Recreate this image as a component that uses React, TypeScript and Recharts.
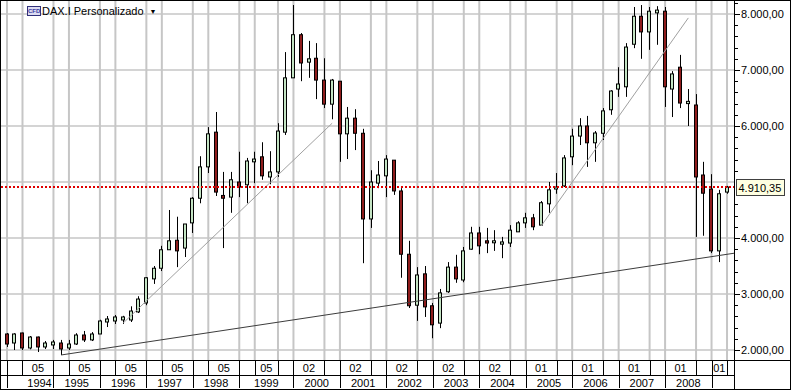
import React from 'react';
import { ComposedChart, Bar, XAxis, YAxis, CartesianGrid, ReferenceLine } from 'recharts';

// bimonthly candles, index -1 is the one cut off at the left edge
const opens = [
  2300, 2286, 2125, 2304, 2036, 2232, 2054, 2090, 2125, 2036, 2107, 2268, 2180, 2286, 2500, 2518,
  2536, 2536, 2680, 2840, 3270, 3460, 3790, 3960, 3820, 4270, 4710, 5270, 5890, 4760, 4730, 5000,
  4950, 5360, 5450, 5090, 5180, 5890, 6860, 7630, 7140, 7210, 6820, 6390, 6800, 5860, 6140, 5870,
  4340, 4980, 5110, 5390, 4840, 3710, 2800, 3360, 2790, 2480, 3040, 3480, 3250, 3800, 4090, 3950,
  3920, 3890, 3910, 4110, 4270, 4360, 4230, 4610, 4880, 4930, 5450, 5820, 6000, 5700, 5870, 6290,
  6660, 6700, 7460, 7960, 7680, 8020, 8050, 6660, 7050, 6400, 6375, 5125, 4875, 3770, 4820,
];
const highs = [
  2330, 2304, 2300, 2310, 2250, 2240, 2160, 2180, 2180, 2180, 2300, 2340, 2320, 2540, 2607, 2625,
  2610, 2780, 2960, 3300, 3500, 3860, 4500, 4380, 4250, 4730, 5460, 5980, 6250, 5180, 5180, 5540,
  5430, 5540, 5710, 5550, 6050, 7320, 8160, 7660, 7520, 7480, 7210, 6840, 6800, 6340, 6300, 5950,
  5210, 5375, 5480, 5390, 4890, 3950, 3480, 3500, 2840, 3090, 3570, 3700, 3840, 4200, 4200, 4180,
  4140, 4020, 4230, 4300, 4450, 4430, 4660, 5000, 5160, 5480, 5950, 6140, 6180, 5910, 6320, 6640,
  7050, 7480, 8125, 8160, 8125, 8140, 8125, 6980, 7270, 6660, 6570, 5360, 5140, 4860, 4930,
];
const lows = [
  2150, 2054, 2000, 2000, 2012, 1964, 2018, 2018, 1910, 2000, 2090, 2143, 2160, 2286, 2410, 2464,
  2464, 2500, 2660, 2800, 3180, 3410, 3790, 3480, 3660, 4090, 4620, 5160, 4750, 3820, 4450, 4730,
  4620, 4980, 5040, 4960, 5090, 5840, 6860, 6800, 6860, 6480, 6320, 6120, 5360, 5410, 5570, 3550,
  4180, 4890, 4730, 4770, 3290, 2750, 2520, 2590, 2210, 2390, 3020, 3200, 3210, 3790, 3710, 3730,
  3770, 3640, 3840, 4110, 4180, 4140, 4230, 4450, 4790, 4910, 5300, 5660, 5270, 5360, 5750, 6200,
  6520, 6520, 7390, 7200, 7360, 7450, 6340, 6160, 6320, 6000, 4020, 4040, 3730, 3570, 4790,
];
const closes = [
  2180, 2107, 2286, 2036, 2232, 2054, 2125, 2143, 2018, 2107, 2268, 2180, 2286, 2518, 2554, 2590,
  2590, 2696, 2910, 3290, 3460, 3790, 3950, 3770, 4250, 4710, 5270, 5860, 4820, 4710, 5040, 4910,
  5375, 5410, 5110, 5180, 5910, 6860, 7630, 7125, 7200, 6820, 6390, 6820, 5860, 6140, 5870, 4340,
  5000, 5125, 5410, 4840, 3710, 2790, 3340, 2770, 2450, 3020, 3480, 3270, 3770, 4090, 3860, 3910,
  3950, 3930, 4140, 4270, 4360, 4200, 4630, 4860, 4910, 5430, 5820, 6000, 5700, 5875, 6270, 6625,
  6750, 7410, 7960, 7680, 8050, 8070, 6700, 6930, 6410, 6440, 5090, 4800, 3770, 4790, 4910.35,
];

const lastPrice = 4910.35;

// grid / upper band separators (candle index)
const monthLines = [0, 2, 6, 8, 12, 14, 18, 20, 24, 26, 30, 32, 35, 37, 41, 43, 47, 49, 53, 55, 59, 61, 65, 67, 71, 73, 77, 79, 83, 85, 89, 91, 93];
const monthLabelAt = [4, 10, 16, 22, 28, 33.5, 39, 45, 51, 57, 63, 69, 75, 81, 87, 92];
const monthLabels = ['05', '05', '05', '05', '05', '05', '02', '02', '02', '02', '02', '01', '01', '01', '01', '01'];

const yearLines = [0, 6, 12, 18, 24, 30, 37, 43, 49, 55, 61, 67, 73, 79, 85, 91];
const yearLabelAt = [4.2, 9, 15, 21, 27, 33.5, 40, 46, 52, 58, 64, 70, 76, 82, 88];
const yearLabels = ['1994', '1995', '1996', '1997', '1998', '1999', '2000', '2001', '2002', '2003', '2004', '2005', '2006', '2007', '2008'];

const priceTicks = [
  2000, 2200, 2400, 2600, 2800, 3000, 3200, 3400, 3600, 3800, 4000, 4200, 4400, 4600, 4800, 5000,
  5200, 5400, 5600, 5800, 6000, 6200, 6400, 6600, 6800, 7000, 7200, 7400, 7600, 7800, 8000, 8200,
];
const gridValues = [2000, 3000, 4000, 5000, 6000, 7000, 8000];

const data = opens.map((o, k) => ({ i: k - 1, open: o, high: highs[k], low: lows[k], close: closes[k] }));

const UP = '#c4e4c4';
const DOWN = '#8e1c1c';
const FONT = '"Liberation Sans", Arial, sans-serif';
const X_DOMAIN: [number, number] = [-0.775, 94.03];

const fmt = (v: number) => {
  const [int, dec] = v.toFixed(2).split('.');
  return int.replace(/\B(?=(\d{3})+(?!\d))/g, '.') + ',' + dec;
};

const Candle = (props: any) => {
  const { x, y, width, height, payload } = props;
  if (payload == null || height == null) return null;
  const cx = Math.round(x + width / 2) + 0.5;
  const span = payload.high - payload.low || 1;
  const py = (v: number) => y + ((payload.high - v) / span) * height;
  const up = payload.close >= payload.open;
  const top = py(Math.max(payload.open, payload.close));
  const bot = py(Math.min(payload.open, payload.close));
  return (
    <g>
      <line x1={cx} x2={cx} y1={y} y2={y + height} stroke="#000" strokeWidth={1} />
      <rect x={cx - 2} y={top} width={3} height={Math.max(bot - top, 2)} fill={up ? UP : DOWN} stroke="#000" strokeWidth={1} />
    </g>
  );
};

const monthMap = new Map(monthLabelAt.map((v, k) => [v, monthLabels[k]]));
const yearMap = new Map(yearLabelAt.map((v, k) => [v, yearLabels[k]]));

const MonthTick = ({ x, y, payload }: any) => {
  const label = monthMap.get(payload.value);
  if (label) {
    return <text x={x} y={y + 12} textAnchor="middle" fontSize={11} fontFamily={FONT} fill="#000">{label}</text>;
  }
  const lx = Math.round(x) + 0.5;
  return <line x1={lx} x2={lx} y1={y} y2={y + 15} stroke="#000" />;
};

const YearTick = ({ x, y, payload }: any) => {
  const label = yearMap.get(payload.value);
  if (label) {
    return <text x={x} y={y + 12} textAnchor="middle" fontSize={11} fontFamily={FONT} fill="#000">{label}</text>;
  }
  const lx = Math.round(x) + 0.5;
  return <line x1={lx} x2={lx} y1={y} y2={y + 13} stroke="#000" />;
};

const PriceTick = ({ x, y, payload }: any) => {
  const v = payload.value;
  const major = v % 1000 === 0;
  // the last-price box hides what sits behind it
  if (Math.abs(v - lastPrice) < 150) return null;
  const ly = Math.round(y) + 0.5;
  return (
    <g>
      <line x1={x} x2={x + (major ? 5 : 3)} y1={ly} y2={ly} stroke="#000" />
      {major && (
        <text x={x + 6} y={y + 4} textAnchor="start" fontSize={11} fontFamily={FONT} fill="#000">{fmt(v)}</text>
      )}
    </g>
  );
};

const PriceLabel = (props: any) => {
  const { x, y, width } = props.viewBox || {};
  const bx = Math.round(x + width) + 1.5;
  return (
    <g>
      <rect x={bx} y={Math.round(y) - 7.5} width={48} height={16} fill="#ffffe1" stroke="#404040" />
      <text x={bx + 2} y={y + 5} fontSize={11} fontFamily={FONT} fill="#000">{fmt(lastPrice)}</text>
    </g>
  );
};

const line = (style: React.CSSProperties): React.CSSProperties => ({ position: 'absolute', background: '#000', ...style });

export default function App() {
  return (
    <div style={{ position: 'fixed', left: 0, top: 0, width: 791, height: 390, boxSizing: 'border-box', border: '1px solid #000', background: '#fff', overflow: 'hidden' }}>
      <ComposedChart width={789} height={388} data={data} margin={{ top: 0, right: 0, bottom: 1, left: 0 }}>
        <CartesianGrid xAxisId="a" yAxisId="p" vertical={false} horizontalValues={gridValues} stroke="#d4d4d4" strokeWidth={2} />
        <CartesianGrid xAxisId="a" yAxisId="p" horizontal={false} verticalValues={monthLines} stroke="#c6c6c6" strokeWidth={2} />
        <XAxis xAxisId="a" dataKey="i" type="number" domain={X_DOMAIN} allowDataOverflow ticks={[...monthLines, ...monthLabelAt]}
          tick={<MonthTick />} tickLine={false} tickSize={0} tickMargin={0} interval={0} height={15} axisLine={false} />
        <XAxis xAxisId="b" dataKey="i" type="number" domain={X_DOMAIN} allowDataOverflow ticks={[...yearLines, ...yearLabelAt]}
          tick={<YearTick />} tickLine={false} tickSize={0} tickMargin={0} interval={0} height={13} axisLine={false} />
        <YAxis yAxisId="p" orientation="right" type="number" domain={[1821.43, 8232.14]} allowDataOverflow ticks={priceTicks}
          tick={<PriceTick />} tickLine={false} tickSize={0} tickMargin={0} interval={0} width={55} axisLine={false} />
        <Bar xAxisId="a" yAxisId="p" dataKey={(d: any) => [d.low, d.high]} barSize={5} isAnimationActive={false}
          shape={(p: any) => <Candle {...p} />} />
        <ReferenceLine xAxisId="a" yAxisId="p" segment={[{ x: 15, y: 2480 }, { x: 42, y: 6050 }]} stroke="#a0a0a0" ifOverflow="visible" />
        <ReferenceLine xAxisId="a" yAxisId="p" segment={[{ x: 69, y: 4215 }, { x: 88, y: 7930 }]} stroke="#a0a0a0" ifOverflow="visible" />
        <ReferenceLine xAxisId="a" yAxisId="p" segment={[{ x: 7, y: 1911 }, { x: 94, y: 3730 }]} stroke="#3c3c3c" ifOverflow="visible" />
        <ReferenceLine xAxisId="a" yAxisId="p" y={lastPrice} stroke="#e00000" strokeWidth={2} strokeDasharray="2 2"
          label={(p: any) => <PriceLabel {...p} />} />
      </ComposedChart>
      <div style={line({ left: 733, top: 0, width: 1, height: 388 })} />
      <div style={line({ left: 0, top: 359, width: 789, height: 1 })} />
      <div style={line({ left: 0, top: 374, width: 734, height: 1 })} />
      <div style={{ position: 'absolute', left: 26, top: 4, display: 'flex', alignItems: 'center', font: `11px ${FONT}`, color: '#000', whiteSpace: 'nowrap' }}>
        <span style={{ display: 'inline-block', width: 12, height: 8, border: '1px solid #30307a', background: '#dcdcf2', color: '#3a3aa0', fontSize: 6, lineHeight: '8px', fontWeight: 700, textAlign: 'center', marginRight: 1 }}>CFD</span>
        <span>DAX.I Personalizado</span>
        <span style={{ fontSize: 7, marginLeft: 6 }}>▼</span>
      </div>
    </div>
  );
}
